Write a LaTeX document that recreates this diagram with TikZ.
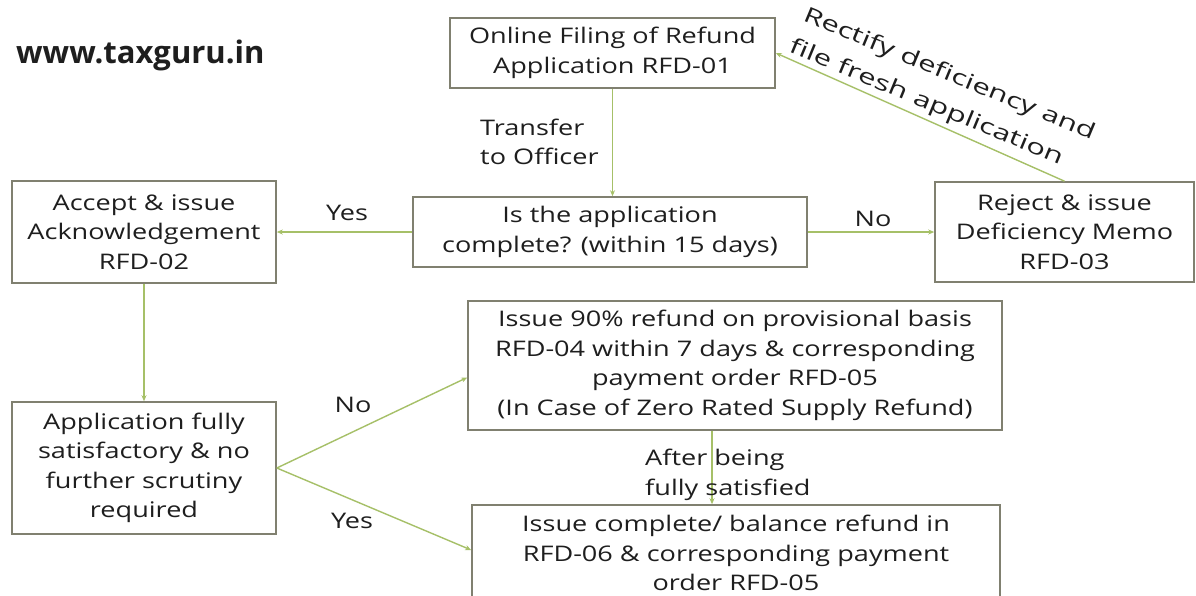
\documentclass[tikz,border=0pt]{standalone}
\usepackage{fontspec}
\setmainfont{Open Sans}[FakeStretch=1.26]
\newfontfamily\sitefont{Open Sans}
\newfontfamily\loopfont{Open Sans}[FakeStretch=1.45]
\usetikzlibrary{arrows.meta,calc}
\definecolor{boxline}{RGB}{128,128,112}
\definecolor{flow}{RGB}{166,192,104}
\definecolor{ink}{RGB}{30,30,30}
\tikzset{
  stage/.style={draw=boxline, line width=1.6pt, fill=white, text=ink,
    align=center, inner sep=0pt, font=\fontsize{21.5}{29.5}\selectfont},
  flowarrow/.style={draw=flow, line width=1.4pt, -{Stealth[length=6pt,width=5pt]}},
  tag/.style={text=ink, inner sep=0pt, font=\fontsize{21.5}{29.5}\selectfont},
  looptag/.style={text=ink, inner sep=0pt, rotate=-22.5, font=\loopfont\fontsize{21.5}{29.5}\selectfont},
}
\begin{document}
\begin{tikzpicture}[x=1pt,y=-1pt]
\clip (0,0) rectangle (1196,595);
\fill[white] (0,0) rectangle (1196,595);

% site name
\node[anchor=base west, inner sep=0pt, text=ink,
  font=\sitefont\bfseries\fontsize{31}{36}\selectfont] (site) at (16,63) {www.taxguru.in};

% process boxes
\node[stage, minimum width=325pt, minimum height=70pt] (online) at (612.5,53)
  {Online Filing of Refund\\Application RFD-01};
\node[stage, minimum width=394pt, minimum height=70pt] (isapp) at (610,232)
  {Is the application\\complete? (within 15 days)};
\node[stage, minimum width=259pt, minimum height=100pt] (reject) at (1064.5,232)
  {Reject \& issue\\Deficiency Memo\\RFD-03};
\node[stage, minimum width=264pt, minimum height=102pt] (accept) at (144,232)
  {Accept \& issue\\Acknowledgement\\RFD-02};
\node[stage, minimum width=264pt, minimum height=132pt] (appfull) at (144,468)
  {Application fully\\satisfactory \& no\\further scrutiny\\required};
\node[stage, minimum width=534pt, minimum height=129pt] (prov) at (735,365.5)
  {Issue 90\% refund on provisional basis\\RFD-04 within 7 days \& corresponding\\payment order RFD-05\\(In Case of Zero Rated Supply Refund)};
\node[stage, minimum width=528pt, minimum height=96pt] (final) at (736,553)
  {Issue complete/ balance refund in\\RFD-06 \& corresponding payment\\order RFD-05};

% connectors
\draw[flowarrow] (online.south) -- (online.south |- isapp.north);
\draw[flowarrow] (isapp.west) -- (accept.east);
\draw[flowarrow] (isapp.east) -- (reject.west);
\draw[flowarrow] (reject.north) -- (online.east);
\draw[flowarrow] (accept.south) -- (accept.south |- appfull.north);
\draw[flowarrow] (appfull.east) -- ($(prov.west)+(0,12)$);
\draw[flowarrow] (appfull.east) -- ($(final.west)+(0,-3)$);
\coordinate (provfoot) at ($(prov.south)+(-23,0)$);
\draw[flowarrow] (provfoot) -- (provfoot |- final.north);

% connector labels
\node[tag, anchor=west, align=left] (transfer) at (480,142) {Transfer\\to Officer};
\node[tag] (yesA) at (347,213) {Yes};
\node[tag] (noA) at (873,219) {No};
\node[looptag] (rectifyA) at (949,75) {Rectify deficiency and};
\node[looptag] (rectifyB) at (926,103) {file fresh application};
\node[tag] (noB) at (353,405) {No};
\node[tag] (yesB) at (352,521) {Yes};
\node[tag, anchor=west, align=left] (after) at (645,475) {After being\\fully satisfied};
\end{tikzpicture}
\end{document}
